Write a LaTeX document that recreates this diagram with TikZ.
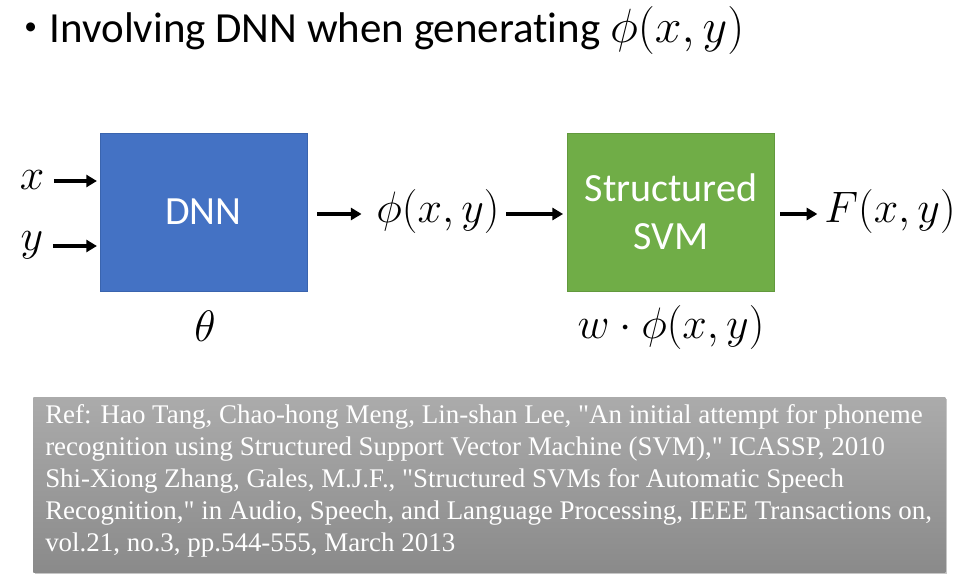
\RequirePackage{fix-cm}
\documentclass[tikz,border=0pt]{standalone}
\usepackage{fontspec}
\setmainfont{Carlito}[Ligatures=NoCommon]
\newfontfamily\reffont{Liberation Serif}
\usetikzlibrary{arrows.meta,shadows}
\definecolor{dnnblue}{HTML}{4472C4}
\definecolor{dnnborder}{HTML}{3A64AE}
\definecolor{svmgreen}{HTML}{70AD47}
\definecolor{svmborder}{HTML}{62993D}
\definecolor{reftop}{HTML}{ABABAB}
\definecolor{refbot}{HTML}{8A8A8A}
\begin{document}
\begin{tikzpicture}[x=0.75pt,y=-0.75pt,
  arr/.style={line width=2.8pt,-{Triangle[length=8pt,width=9pt]}},
  blockbox/.style={draw, line width=0.6pt, minimum width=155.25pt, minimum height=118.5pt, inner sep=0pt, text=white, align=center, font=\fontsize{30}{36}\selectfont},
  mathlbl/.style={inner sep=1pt, font=\fontsize{33}{38}\selectfont}]
\useasboundingbox (0,0) rectangle (979,585);
\node[anchor=base west, inner sep=0pt, font=\fontsize{32.2}{36}\selectfont] (title) at (24,43) {\raisebox{0.2em}{\fontsize{19}{19}\selectfont\textbullet}\hspace{0.3em}Involving DNN when generating {\fontsize{36}{40}\selectfont$\phi(x,y)$}};
\node[blockbox, draw=dnnborder, fill=dnnblue] (dnn) at (203.5,212) {DNN};
\node[blockbox, draw=svmborder, fill=svmgreen] (svm) at (671,212) {Structured\\SVM};
\node[mathlbl] (xl) at (32,180) {$x$};
\node[mathlbl] (yl) at (32,245) {$y$};
\node[mathlbl] (theta) at (205,326) {$\theta$};
\node[mathlbl] (phi) at (438,212) {$\phi(x,y)$};
\node[mathlbl] (F) at (890,212) {$F(x,y)$};
\node[mathlbl] (wphi) at (671,328) {$w\cdot\phi(x,y)$};
\draw[arr, shorten <=6pt, shorten >=2pt] (xl.east |- 0,181) -- (dnn.west |- 0,181);
\draw[arr, shorten <=6pt, shorten >=2pt] (yl.east |- 0,246) -- (dnn.west |- 0,246);
\draw[arr, shorten <=7.5pt, shorten >=10pt] (dnn.east |- 0,214) -- (phi.west |- 0,214);
\draw[arr, shorten <=4pt, shorten >=3pt] (phi.east |- 0,214) -- (svm.west |- 0,214);
\draw[arr, shorten <=4pt, shorten >=4pt] (svm.east |- 0,214) -- (F.west |- 0,214);
\node[anchor=north west, minimum width=684pt, minimum height=131.25pt, inner sep=0pt,
  top color=reftop, bottom color=refbot, drop shadow={shadow xshift=1.5pt, shadow yshift=-1.5pt, opacity=0.45}] (refbox) at (33,397) {};
\node[anchor=north west, inner sep=0pt, text=white, align=left, font=\reffont\fontsize{20.2}{24}\selectfont] (reftext) at (45,404) {Ref: Hao Tang, Chao-hong Meng, Lin-shan Lee, "An initial attempt for phoneme\\recognition using Structured Support Vector Machine (SVM)," ICASSP, 2010\\Shi-Xiong Zhang, Gales, M.J.F., "Structured SVMs for Automatic Speech\\Recognition," in Audio, Speech, and Language Processing, IEEE Transactions on,\\vol.21, no.3, pp.544-555, March 2013};
\end{tikzpicture}
\end{document}
